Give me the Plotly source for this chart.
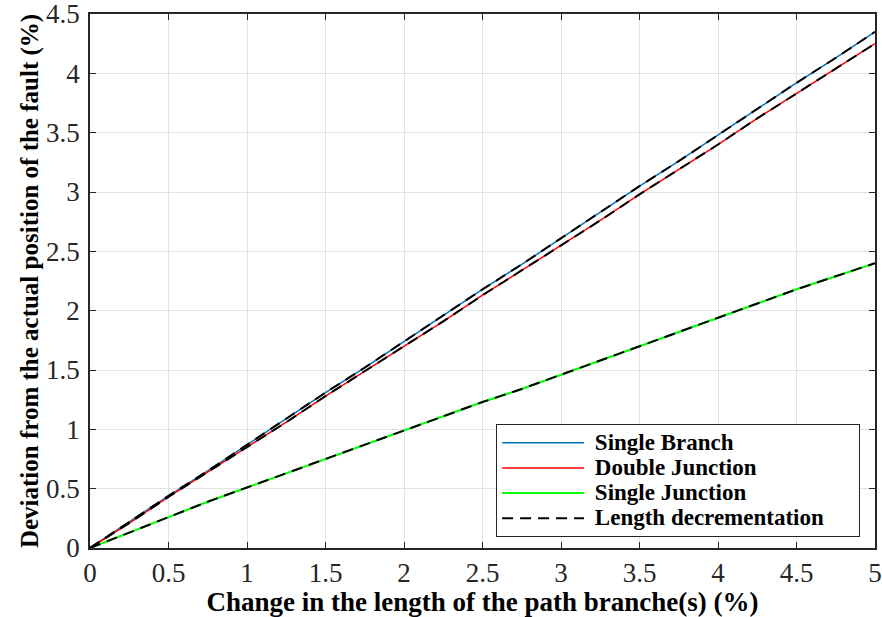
import plotly.graph_objects as go

# values
x = [0, 0.25, 0.5, 0.75, 1, 1.25, 1.5, 1.75, 2, 2.25, 2.5,
     2.75, 3, 3.25, 3.5, 3.75, 4, 4.25, 4.5, 4.75, 5]
single_branch = [0, 0.22, 0.44, 0.65, 0.87, 1.09, 1.31, 1.52, 1.74, 1.96, 2.18,
                 2.39, 2.61, 2.83, 3.05, 3.26, 3.48, 3.70, 3.92, 4.13, 4.35]
double_junction = [0, 0.21, 0.43, 0.64, 0.85, 1.06, 1.28, 1.49, 1.70, 1.91, 2.13,
                   2.34, 2.55, 2.76, 2.98, 3.19, 3.40, 3.62, 3.83, 4.04, 4.25]
single_junction = [0, 0.13, 0.26, 0.39, 0.51, 0.63, 0.75, 0.87, 0.99, 1.11, 1.23,
                   1.34, 1.46, 1.58, 1.70, 1.82, 1.94, 2.06, 2.18, 2.29, 2.40]

font = "Liberation Serif"


def leg(name):
    # bigger text than the legend font so the rows stay tight
    return '<span style="font-size:23px">&nbsp;' + name + '</span>'


fig = go.Figure()

fig.add_trace(go.Scatter(x=x, y=single_branch, mode="lines", name=leg("Single Branch"),
                         line=dict(color="#0072BD", width=1.5)))
fig.add_trace(go.Scatter(x=x, y=double_junction, mode="lines", name=leg("Double Junction"),
                         line=dict(color="#FF0000", width=1.5)))
fig.add_trace(go.Scatter(x=x, y=single_junction, mode="lines", name=leg("Single Junction"),
                         line=dict(color="#00FF00", width=2)))

# length decrementation drawn over each curve
for i, ys in enumerate([single_branch, double_junction, single_junction]):
    fig.add_trace(go.Scatter(x=x, y=ys, mode="lines",
                             name=leg("Length decrementation") + "&nbsp;" * 7,
                             showlegend=(i == 0),
                             line=dict(color="black", width=2, dash="11px,7px")))

fig.update_layout(
    width=882, height=617,
    margin=dict(l=90, r=7, t=14, b=69),
    plot_bgcolor="white", paper_bgcolor="white",
    font=dict(family=font, color="#262626"),
    legend=dict(x=0.981, y=0.02, xanchor="right", yanchor="bottom",
                bgcolor="white", bordercolor="#262626", borderwidth=1,
                font=dict(family=font, size=17, color="black", weight="bold"),
                itemwidth=82, tracegroupgap=0),
    showlegend=True,
)
fig.update_xaxes(range=[0, 5], dtick=0.5, showgrid=True, gridcolor="#e3e3e3",
                 showline=True, linecolor="#262626", linewidth=1.5, mirror="ticks",
                 ticks="inside", ticklen=6, tickcolor="#262626", zeroline=False,
                 tickfont=dict(size=27), automargin=False, ticklabelstandoff=0,
                 ticklabeloverflow="allow",
                 title=dict(text="<b>Change in the length of the path branche(s) (%)</b>",
                            font=dict(size=27, color="black"), standoff=0))
fig.update_yaxes(range=[0, 4.5], dtick=0.5, showgrid=True, gridcolor="#e3e3e3",
                 showline=True, linecolor="#262626", linewidth=1.5, mirror="ticks",
                 ticks="inside", ticklen=6, tickcolor="#262626", zeroline=False,
                 tickfont=dict(size=27), automargin=False, ticklabelstandoff=3,
                 ticklabeloverflow="allow",
                 title=dict(text="<b>Deviation from the actual position of the fault (%)</b>",
                            font=dict(size=25, color="black"), standoff=0))

fig.write_html("out.html", config={"displayModeBar": False},
               post_script="document.body.style.margin='0';")
